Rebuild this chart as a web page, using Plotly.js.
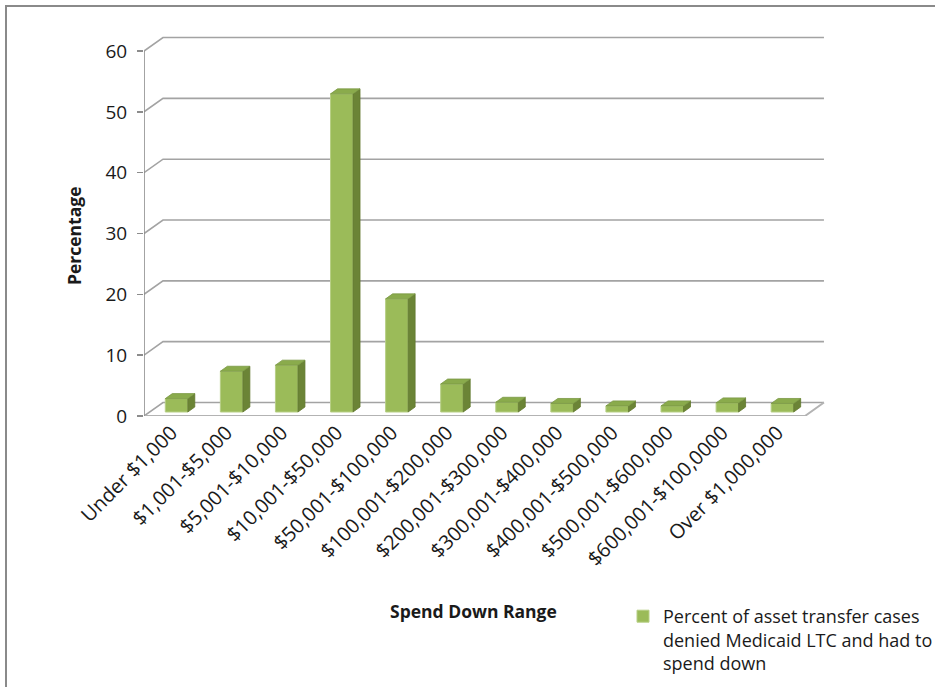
<!DOCTYPE html>
<html>
<head>
<meta charset="utf-8">
<script src="https://cdn.plot.ly/plotly-3.0.1.min.js"></script>
<style>
  html, body { margin: 0; padding: 0; background: #ffffff; }
  #chart { width: 935px; height: 687px; }
</style>
</head>
<body>
<div id="chart"></div>
<script>
// ---- data ----
var categories = [
  "Under $1,000", "$1,001-$5,000", "$5,001-$10,000", "$10,001-$50,000",
  "$50,001-$100,000", "$100,001-$200,000", "$200,001-$300,000", "$300,001-$400,000",
  "$400,001-$500,000", "$500,001-$600,000", "$600,001-$100,0000", "Over $1,000,000"
];
var percentValues = [2.2, 6.7, 7.7, 52.3, 18.6, 4.6, 1.6, 1.4, 1.0, 1.0, 1.5, 1.4];
var seriesName = "Percent of asset transfer cases<br>denied Medicaid LTC and had to<br>spend down";
var yTickValues = [0, 10, 20, 30, 40, 50, 60];

// ---- geometry (pixels) ----
var W = 935, H = 687;
var M = {l: 144, r: 105, t: 30, b: 271, autoexpand: false};
var plotW = W - M.l - M.r, plotH = H - M.t - M.b;
var catPx = 55.08, unitPx = 6.083;
var xr = [-0.5, -0.5 + plotW / catPx];
var yr = [0, plotH / unitPx];
function dxU(px) { return px / catPx; }
function dyU(px) { return px / unitPx; }
function pxToPaperX(px) { return (px - M.l) / plotW; }
function pxToPaperY(py) { return (H - M.b - py) / plotH; }

var wallDX = dxU(19), wallDY = dyU(13.5);
var barFX = dxU(5), barFY = dyU(4);
var sideDX = dxU(7), sideDY = dyU(5);
var barW = dxU(22.5);
var nCat = categories.length;
var xLeft = -0.5, xRight = nCat - 0.5;

var gridColor = "#a3a3a3";
var shapes = [];

// back-wall gridlines with perspective return to the front axis
yTickValues.forEach(function (v) {
  shapes.push({
    type: "path", xref: "x", yref: "y", layer: "below",
    path: "M" + xLeft + "," + v + " L" + (xLeft + wallDX) + "," + (v + wallDY) +
          " L" + (xRight + wallDX) + "," + (v + wallDY),
    line: {color: gridColor, width: 1.6}
  });
});
// floor front edge and right edge
shapes.push({
  type: "path", xref: "x", yref: "y", layer: "below",
  path: "M" + xLeft + ",0 L" + xRight + ",0 L" + (xRight + wallDX) + "," + wallDY,
  line: {color: "#b3b3b3", width: 2}
});
// front vertical axis line
shapes.push({
  type: "line", xref: "x", yref: "y", layer: "below",
  x0: xLeft, x1: xLeft, y0: 0, y1: yTickValues[yTickValues.length - 1],
  line: {color: "#8c8c8c", width: 1.6}
});

// 3D faces of the bars (side and top), built from the data
var sideColor = "#6b8436", topColor = "#8aab4c";
percentValues.forEach(function (v, i) {
  var xl = i + barFX - barW / 2, xrr = i + barFX + barW / 2;
  var yb = barFY, yt = barFY + v;
  shapes.push({
    type: "path", xref: "x", yref: "y", layer: "above",
    path: "M" + xrr + "," + yb + " L" + (xrr + sideDX) + "," + (yb + sideDY) +
          " L" + (xrr + sideDX) + "," + (yt + sideDY) + " L" + xrr + "," + yt + " Z",
    fillcolor: sideColor, line: {color: "#62792f", width: 0.8}
  });
  shapes.push({
    type: "path", xref: "x", yref: "y", layer: "above",
    path: "M" + xl + "," + yt + " L" + (xl + sideDX) + "," + (yt + sideDY) +
          " L" + (xrr + sideDX) + "," + (yt + sideDY) + " L" + xrr + "," + yt + " Z",
    fillcolor: topColor, line: {color: "#7a9844", width: 0.8}
  });
});

// outer chart frame
shapes.push({
  type: "path", xref: "paper", yref: "paper", layer: "above",
  path: "M" + pxToPaperX(6) + "," + pxToPaperY(H + 5) + " L" + pxToPaperX(6) + "," + pxToPaperY(6) +
        " L" + pxToPaperX(W + 5) + "," + pxToPaperY(6),
  line: {color: "#8a8a8a", width: 2}
});

var xPositions = categories.map(function (c, i) { return i + barFX; });
var bases = categories.map(function () { return barFY; });

var trace = {
  type: "bar",
  x: xPositions,
  y: percentValues,
  base: bases,
  width: barW,
  name: seriesName,
  marker: {color: "#9bbb59", line: {color: "#b7cf86", width: 1}},
  showlegend: true,
  hoverinfo: "y"
};

var fontFam = "'Open Sans', 'Noto Sans', sans-serif";

var layout = {
  width: W, height: H,
  margin: M,
  paper_bgcolor: "#ffffff",
  plot_bgcolor: "rgba(0,0,0,0)",
  font: {family: fontFam, color: "#1a1a1a", size: 18},
  showlegend: true,
  legend: {
    x: pxToPaperX(623), y: pxToPaperY(598), xanchor: "left", yanchor: "top",
    valign: "top",
    font: {family: fontFam, size: 18, color: "#1a1a1a"},
    bgcolor: "rgba(0,0,0,0)", itemwidth: 30
  },
  xaxis: {
    range: xr, showgrid: false, zeroline: false, showline: false,
    tickmode: "array", tickvals: categories.map(function (c, i) { return i; }),
    ticktext: categories, tickangle: -45, ticks: "",
    tickfont: {family: fontFam, size: 20, color: "#1a1a1a"},
    fixedrange: true
  },
  yaxis: {
    range: yr, showgrid: false, zeroline: false, showline: false,
    tickmode: "array", tickvals: yTickValues, ticks: "outside", ticklen: 6,
    tickcolor: "#8c8c8c", tickwidth: 1.5, ticklabelstandoff: 6,
    tickfont: {family: fontFam, size: 19, color: "#1a1a1a"},
    fixedrange: true
  },
  shapes: shapes,
  annotations: [
    {text: "<b>Spend Down Range</b>", xref: "paper", yref: "paper",
     x: pxToPaperX(473), y: pxToPaperY(611), xanchor: "center", yanchor: "middle",
     showarrow: false, font: {family: fontFam, size: 17.5, color: "#1a1a1a"}},
    {text: "<b>Percentage</b>", xref: "paper", yref: "paper", textangle: -90,
     x: pxToPaperX(74), y: pxToPaperY(236), xanchor: "center", yanchor: "middle",
     showarrow: false, font: {family: fontFam, size: 17.5, color: "#1a1a1a"}}
  ]
};

Plotly.newPlot("chart", [trace], layout, {displayModeBar: false, staticPlot: true});
</script>
</body>
</html>
